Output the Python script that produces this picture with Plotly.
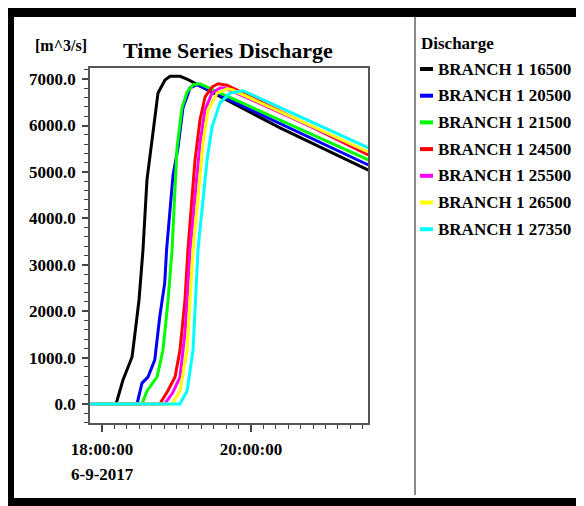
import plotly.graph_objects as go
import pandas as pd

# ---------------- data ----------------
series_names = ["BRANCH 1 16500", "BRANCH 1 20500", "BRANCH 1 21500", "BRANCH 1 24500",
                "BRANCH 1 25500", "BRANCH 1 26500", "BRANCH 1 27350"]
series_colors = ["#000000", "#0000ff", "#00ff00", "#ff0000", "#ff00ff", "#ffff00", "#00ffff"]

# time in minutes after 18:00:00 (6-9-2017), discharge in m^3/s
t_16500 = [-10, 11.3, 16.9, 24.2, 26.6, 29.8, 33.0, 36.2, 40.3, 45.1, 50.7, 54.8, 62.8, 68.5, 143.4, 214.5]
q_16500 = [0, 0, 517, 1013, 1530, 2241, 3319, 4828, 5690, 6703, 6983, 7060, 7060, 7000, 5950, 5040]

t_20500 = [-10, 28.2, 32.2, 37.0, 42.5, 46.5, 50.5, 52.0, 57.2, 61.2, 65.2, 70.9, 76.5, 214.5]
q_20500 = [0, 0, 450, 580, 950, 1880, 2610, 3320, 4930, 5520, 6380, 6810, 6880, 5150]

t_21500 = [-10, 32.2, 36.2, 44.3, 49.1, 53.2, 56.4, 60.4, 64.4, 68.5, 73.3, 78.9, 89.4, 214.5]
q_21500 = [0, 0, 280, 580, 1160, 2240, 3320, 5520, 6380, 6720, 6880, 6900, 6770, 5260]

t_24500 = [-10, 46.5, 52.9, 58.8, 62.8, 66.8, 69.2, 74.9, 78.9, 83.0, 88.6, 93.4, 100.7, 214.5]
q_24500 = [0, 0, 280, 580, 1160, 2240, 3320, 5260, 6120, 6620, 6830, 6900, 6870, 5370]

t_25500 = [-10, 50.5, 56.9, 62.8, 66.8, 70.9, 78.9, 83.0, 88.6, 95.0, 99.1, 214.5]
q_25500 = [0, 0, 240, 580, 1530, 3320, 5620, 6340, 6700, 6810, 6810, 5420]

t_26500 = [-10, 56.4, 62.8, 68.5, 73.3, 81.4, 85.4, 92.7, 100.7, 104.7, 214.5]
q_26500 = [0, 0, 280, 1160, 3320, 5620, 6340, 6700, 6790, 6770, 5430]

t_27350 = [-10, 62.8, 68.5, 73.3, 77.3, 84.6, 88.6, 95.0, 103.1, 113.6, 214.5]
q_27350 = [0, 0, 280, 1160, 3320, 5260, 5970, 6490, 6700, 6750, 5520]

series_t = [t_16500, t_20500, t_21500, t_24500, t_25500, t_26500, t_27350]
series_q = [q_16500, q_20500, q_21500, q_24500, q_25500, q_26500, q_27350]

y_tick_vals = [0, 1000, 2000, 3000, 4000, 5000, 6000, 7000]
y_tick_text = ["0.0", "1000.0", "2000.0", "3000.0", "4000.0", "5000.0", "6000.0", "7000.0"]
x_tick_vals = ["2017-09-06 18:00:00", "2017-09-06 20:00:00"]
x_tick_text = ["18:00:00", "20:00:00"]
date_label = "6-9-2017"

# ---------------- layout geometry (page pixel coords) ----------------
OFF = 8  # page body margin
W, H = 584 - OFF, 506 - OFF
L, R, T, B = 90, 368, 68, 423
FONT = "Liberation Serif, Times New Roman, serif"


def px(x):
    return (x - L) / (R - L)


def py(y):
    return (B - y) / (B - T)


base = pd.Timestamp("2017-09-06 18:00:00")

fig = go.Figure()
for name, color, t, q in zip(series_names, series_colors, series_t, series_q):
    times = base + pd.to_timedelta(t, unit="m")
    fig.add_trace(go.Scatter(x=times, y=q, mode="lines", name=name,
                             line=dict(color=color, width=3), showlegend=False))

x_start = base + pd.Timedelta(minutes=-9.67)
x_end = base + pd.Timedelta(minutes=214.2)

fig.update_layout(
    width=W, height=H,
    margin=dict(l=L - OFF, r=584 - R, t=T - OFF, b=506 - B),
    paper_bgcolor="white", plot_bgcolor="white",
    font=dict(family=FONT, size=17, color="black"),
    xaxis=dict(
        range=[x_start, x_end], type="date",
        tickmode="array", tickvals=x_tick_vals,
        ticktext=["<b>%s</b>" % s for s in x_tick_text],
        ticks="outside", ticklen=7, tickwidth=1.5, tickcolor="#444",
        showline=True, linecolor="#555", linewidth=1.5, mirror=True,
        showgrid=False, zeroline=False, ticklabelstandoff=3,
        tickfont=dict(family=FONT, size=17, color="black"),
        minor=dict(ticks="outside", dtick=600000, tick0="2017-09-06 18:00:00",
                   ticklen=4, tickwidth=1.2, tickcolor="#444", showgrid=False),
    ),
    yaxis=dict(
        range=[-410, 7240],
        tickmode="array", tickvals=y_tick_vals,
        ticktext=["<b>%s</b>" % s for s in y_tick_text],
        ticks="outside", ticklen=6, tickwidth=1.5, tickcolor="#444",
        showline=True, linecolor="#555", linewidth=1.5, mirror=True,
        showgrid=False, zeroline=False, ticklabelstandoff=3,
        tickfont=dict(family=FONT, size=17, color="black"),
        minor=dict(ticks="outside", dtick=200, tick0=0,
                   ticklen=4, tickwidth=1.2, tickcolor="#444", showgrid=False),
    ),
)

shapes = []
# outer black frame
for (x0, y0, x1, y1) in [(5, 5, 590, 17), (5, 5, 14, 510), (579, 5, 590, 510), (5, 498, 590, 510)]:
    shapes.append(dict(type="rect", xref="paper", yref="paper",
                       x0=px(x0), x1=px(x1), y0=py(y1), y1=py(y0),
                       fillcolor="black", line=dict(width=0), layer="above"))
# legend separator
shapes.append(dict(type="line", xref="paper", yref="paper",
                   x0=px(415), x1=px(415), y0=py(495), y1=py(17),
                   line=dict(color="#8a8a8a", width=2)))

annotations = [
    dict(text="<b>Time Series Discharge</b>", xref="paper", yref="paper",
         x=px(228), y=py(50), xanchor="center", yanchor="middle", showarrow=False,
         font=dict(family=FONT, size=22, color="black")),
    dict(text="<b>[m^3/s]</b>", xref="paper", yref="paper",
         x=px(61), y=py(45), xanchor="center", yanchor="middle", showarrow=False,
         font=dict(family=FONT, size=16, color="black")),
    dict(text="<b>%s</b>" % date_label, xref="x", yref="paper",
         x=x_tick_vals[0], y=py(474), xanchor="center", yanchor="middle", showarrow=False,
         font=dict(family=FONT, size=17, color="black")),
    dict(text="<b>Discharge</b>", xref="paper", yref="paper",
         x=px(419), y=py(43), xanchor="left", yanchor="middle", showarrow=False,
         font=dict(family=FONT, size=17, color="black")),
]

# manual legend
for i, (name, color) in enumerate(zip(series_names, series_colors)):
    yc = 69 + i * 26.7
    shapes.append(dict(type="line", xref="paper", yref="paper",
                       x0=px(420), x1=px(433), y0=py(yc), y1=py(yc),
                       line=dict(color=color, width=4)))
    annotations.append(dict(text="<b>%s</b>" % name, xref="paper", yref="paper",
                            x=px(436), y=py(yc), xanchor="left", yanchor="middle",
                            showarrow=False,
                            font=dict(family=FONT, size=17, color="black")))

fig.update_layout(shapes=shapes, annotations=annotations)
fig.write_html("out.html")
